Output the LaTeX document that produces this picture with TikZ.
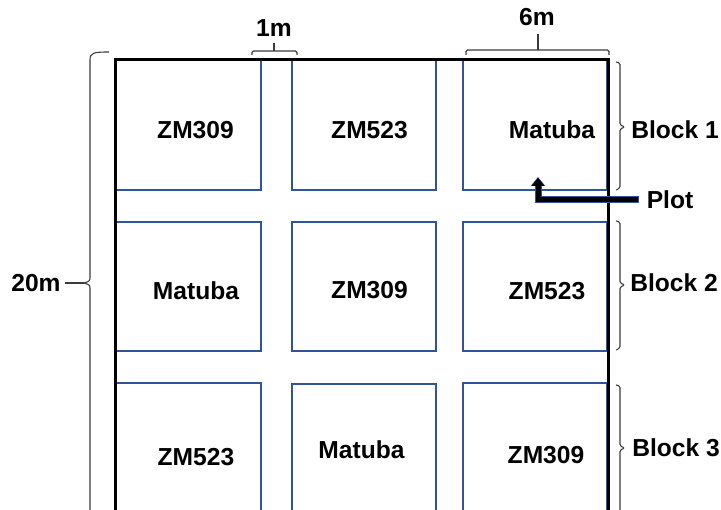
\documentclass[tikz,border=0pt]{standalone}
\usepackage{fontspec}
\setmainfont{Liberation Sans}
\usetikzlibrary{arrows.meta}
\definecolor{plotblue}{RGB}{47,85,151}
\definecolor{bracegray}{RGB}{60,60,60}
\begin{document}
\begin{tikzpicture}[x=1pt,y=-1pt,
  plotbox/.style={draw=plotblue,line width=1.3pt,inner sep=0pt},
  lbl/.style={font=\fontsize{24.6}{28}\selectfont\bfseries,inner sep=0pt},
  brace/.style={draw=bracegray,line width=1.1pt,rounded corners=1.5pt}]
\useasboundingbox (0,0) rectangle (721,510);
\begin{scope}
\clip (0,0) rectangle (721,510);
% plots
\node[plotbox,minimum width=145pt,minimum height=130pt] (p11) at (188.5,125) {};
\node[plotbox,minimum width=144pt,minimum height=130pt] (p12) at (364,125) {};
\node[plotbox,minimum width=144pt,minimum height=130pt] (p13) at (535,125) {};
\node[plotbox,minimum width=145pt,minimum height=129pt] (p21) at (188.5,286.5) {};
\node[plotbox,minimum width=144pt,minimum height=129pt] (p22) at (364,286.5) {};
\node[plotbox,minimum width=144pt,minimum height=129pt] (p23) at (535,286.5) {};
\node[plotbox,minimum width=145pt,minimum height=134pt] (p31) at (188.5,450) {};
\node[plotbox,minimum width=144pt,minimum height=134pt] (p32) at (364,451) {};
\node[plotbox,minimum width=144pt,minimum height=134pt] (p33) at (535,450) {};
% field frame
\draw[line width=3pt,line join=miter] (115,530) -- (115,60) -- (608,60) -- (608,530);
% cell labels
\node[lbl] (t11) at (195.5,130) {ZM309};
\node[lbl] (t12) at (369.5,130) {ZM523};
\node[lbl] (t13) at (552,130) {Matuba};
\node[lbl] (t21) at (196,291) {Matuba};
\node[lbl] (t22) at (369.5,290) {ZM309};
\node[lbl] (t23) at (547,291) {ZM523};
\node[lbl] (t31) at (196,457) {ZM523};
\node[lbl] (t32) at (361.5,450) {Matuba};
\node[lbl] (t33) at (546,455) {ZM309};
% 1m brace
\node[lbl] (l1m) at (274,28) {1m};
\draw[brace] (252,55) -- (252,51) -- (297,51) -- (297,55);
\draw[brace] (274,51) -- (274,43);
% 6m brace
\node[lbl] (l6m) at (537,17) {6m};
\draw[brace] (466,55) -- (466,50) -- (609,50) -- (609,55);
\draw[brace] (538,50) -- (538,34);
% 20m brace
\node[lbl] (l20) at (36,283) {20m};
\coordinate (tip20) at (84,283);
\draw[brace,rounded corners=0pt] (109,52) .. controls (93,52) and (90,53) .. (90,60) -- (90,277)
  .. controls (90,281) .. (84,283) .. controls (90,285) .. (90,289) -- (90,530);
\draw[brace] ([xshift=4pt]l20.east) -- (tip20);
% block brackets
\draw[brace] (616,62) -- (620,63) -- (620,125) -- (625,127) -- (620,129) -- (620,188) -- (616,190);
\node[lbl] (b1) at (675,130) {Block 1};
\draw[brace] (616,221) -- (620,222) -- (620,283) -- (625,285) -- (620,287) -- (620,348) -- (616,350);
\node[lbl] (b2) at (674,283) {Block 2};
\draw[brace] (616,385) -- (620,386) -- (620,446) -- (625,448) -- (620,450) -- (620,530);
\node[lbl] (b3) at (676,448) {Block 3};
% plot arrow
\node[lbl] (plot) at (670,199.5) {Plot};
\coordinate (ptip) at (538,177);
\coordinate (pbend) at (538,199.5);
\draw[plotblue,line width=7pt,line join=miter,-{Triangle[width=14pt,length=9pt]}] ([xshift=-8pt]plot.west) -- (pbend) -- (ptip);
\draw[black,line width=5pt,line join=miter,-{Triangle[width=12pt,length=8pt]}] ([xshift=-8.5pt]plot.west) -- (pbend) -- ([yshift=-0.8pt]ptip);
\end{scope}
\end{tikzpicture}
\end{document}
